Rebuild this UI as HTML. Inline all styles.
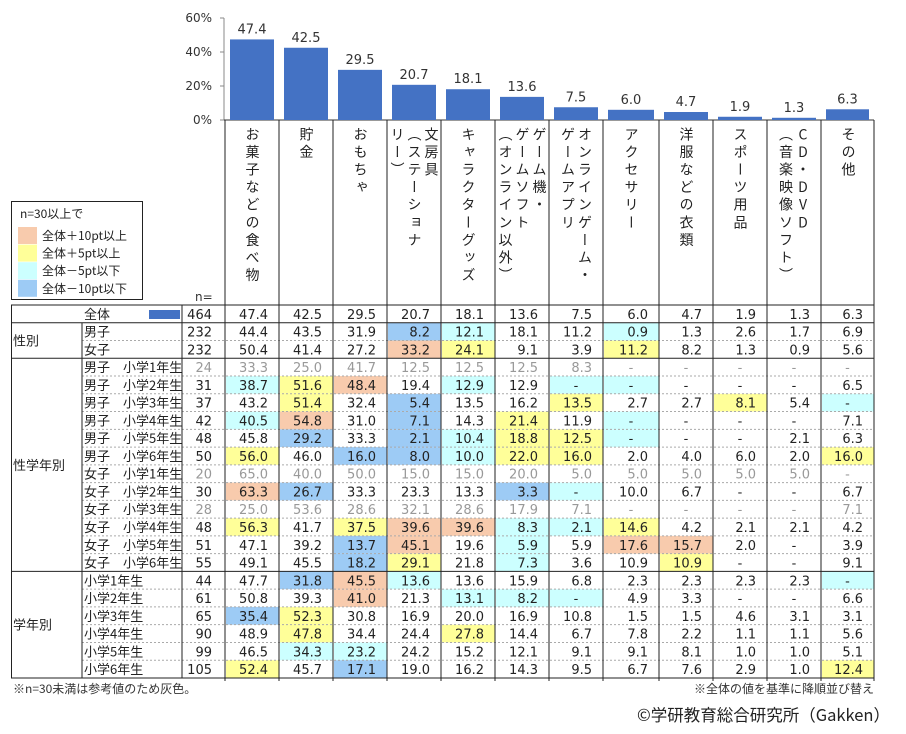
<!DOCTYPE html>
<html><head><meta charset="utf-8">
<style>
body{margin:0;background:#fff;width:906px;height:734px;overflow:hidden;position:relative;font-family:"DejaVu Sans","Noto Sans CJK JP",sans-serif;}
svg{position:absolute;left:0;top:0}
.vh{position:absolute;top:127px;writing-mode:vertical-rl;text-orientation:upright;font-family:"Noto Sans CJK JP","DejaVu Sans",sans-serif;font-size:14px;line-height:17px;letter-spacing:3.6px;color:#222;white-space:nowrap}
</style></head><body>
<svg id="s" width="906" height="734" xmlns="http://www.w3.org/2000/svg"></svg>
<div id="hd"></div>
<script>
(function(){
const s=document.getElementById('s');
let h='';
const cols=[225,279,333,387,441,495,549,603,659,713,767,821,874];
const T0=305,rh=17.76;
const jp='font-family="Noto Sans CJK JP, DejaVu Sans, sans-serif"';
h+='<line x1="224" y1="18" x2="224" y2="120" stroke="#888" stroke-width="1"/>';
[[60,18],[40,52],[20,86],[0,120]].forEach(function(a){const v=a[0],y=a[1];
 h+='<line x1="220" y1="'+y+'" x2="224" y2="'+y+'" stroke="#888"/>';
 h+='<text x="212" y="'+(y+4)+'" font-size="12" text-anchor="end" fill="#333">'+v+'%</text>';
});
h+='<line x1="224" y1="120" x2="874" y2="120" stroke="#333"/>';
const tot=[47.4,42.5,29.5,20.7,18.1,13.6,7.5,6.0,4.7,1.9,1.3,6.3];
tot.forEach(function(v,i){const x=cols[i]+5,w=cols[i+1]-cols[i]-10,bh=v*1.7;
 h+='<rect x="'+x+'" y="'+(120-bh)+'" width="'+w+'" height="'+bh+'" fill="#4472C4"/>';
 h+='<text x="'+((cols[i]+cols[i+1])/2)+'" y="'+(120-bh-6)+'" font-size="13" text-anchor="middle" fill="#333">'+v.toFixed(1)+'</text>';});
h+='<rect x="11.5" y="201.5" width="131" height="98" fill="none" stroke="#222"/>';
h+='<text x="20" y="218" font-size="12" '+jp+' fill="#222">n=30以上で</text>';
[['#F8CBAD','全体＋10pt以上'],['#FFFF99','全体＋5pt以上'],['#CCFFFF','全体－5pt以下'],['#9DCBF5','全体－10pt以下']].forEach(function(a,i){
 const y=227+i*17.6;h+='<rect x="18" y="'+y+'" width="19" height="17" fill="'+a[0]+'"/>';
 h+='<text x="42" y="'+(y+13)+'" font-size="12" '+jp+' fill="#222">'+a[1]+'</text>';});
h+='<text x="195" y="301" font-size="12" fill="#333">n=</text>';
const C={o:'#F8CBAD',y:'#FFFF99',c:'#CCFFFF',b:'#9DCBF5'};
const R=[
['全体',464,'47.4 42.5 29.5 20.7 18.1 13.6 7.5 6.0 4.7 1.9 1.3 6.3'],
['男子',232,'44.4 43.5 31.9 8.2b 12.1c 18.1 11.2 0.9c 1.3 2.6 1.7 6.9'],
['女子',232,'50.4 41.4 27.2 33.2o 24.1y 9.1 3.9 11.2y 8.2 1.3 0.9 5.6'],
['男子　小学1年生',24,'33.3 25.0 41.7 12.5 12.5 12.5 8.3 - - - - -',1],
['男子　小学2年生',31,'38.7c 51.6y 48.4o 19.4 12.9c 12.9 -c -c - - - 6.5'],
['男子　小学3年生',37,'43.2 51.4y 32.4 5.4b 13.5 16.2 13.5y 2.7 2.7 8.1y 5.4 -c'],
['男子　小学4年生',42,'40.5c 54.8o 31.0 7.1b 14.3 21.4y 11.9 -c - - - 7.1'],
['男子　小学5年生',48,'45.8 29.2b 33.3 2.1b 10.4c 18.8y 12.5y -c - - 2.1 6.3'],
['男子　小学6年生',50,'56.0y 46.0 16.0b 8.0b 10.0c 22.0y 16.0y 2.0 4.0 6.0 2.0 16.0y'],
['女子　小学1年生',20,'65.0 40.0 50.0 15.0 15.0 20.0 5.0 5.0 5.0 5.0 5.0 -',1],
['女子　小学2年生',30,'63.3o 26.7b 33.3 23.3 13.3 3.3b -c 10.0 6.7 - - 6.7'],
['女子　小学3年生',28,'25.0 53.6 28.6 32.1 28.6 17.9 7.1 - - - - 7.1',1],
['女子　小学4年生',48,'56.3y 41.7 37.5y 39.6o 39.6o 8.3c 2.1c 14.6y 4.2 2.1 2.1 4.2'],
['女子　小学5年生',51,'47.1 39.2 13.7b 45.1o 19.6 5.9c 5.9 17.6o 15.7o 2.0 - 3.9'],
['女子　小学6年生',55,'49.1 45.5 18.2b 29.1y 21.8 7.3c 3.6 10.9 10.9y - - 9.1'],
['小学1年生',44,'47.7 31.8b 45.5o 13.6c 13.6 15.9 6.8 2.3 2.3 2.3 2.3 -c'],
['小学2年生',61,'50.8 39.3 41.0o 21.3 13.1c 8.2c -c 4.9 3.3 - - 6.6'],
['小学3年生',65,'35.4b 52.3y 30.8 16.9 20.0 16.9 10.8 1.5 1.5 4.6 3.1 3.1'],
['小学4年生',90,'48.9 47.8y 34.4 24.4 27.8y 14.4 6.7 7.8 2.2 1.1 1.1 5.6'],
['小学5年生',99,'46.5 34.3c 23.2c 24.2 15.2 12.1 9.1 9.1 8.1 1.0 1.0 5.1'],
['小学6年生',105,'52.4y 45.7 17.1b 19.0 16.2 14.3 9.5 6.7 7.6 2.9 1.0 12.4y']];
let t='';
R.forEach(function(r,i){const y=T0+i*rh,by=y+rh/2+5;const col=r[3]?'#999':'#222';
 t+='<text x="84" y="'+by+'" font-size="13" '+jp+' fill="#222">'+r[0]+'</text>';
 t+='<text x="212" y="'+by+'" font-size="13" text-anchor="end" fill="'+col+'">'+r[1]+'</text>';
 r[2].split(' ').forEach(function(v,j){const c=v.slice(-1);let val=v;
  if(C[c]){val=v.slice(0,-1);h+='<rect x="'+(cols[j]+1)+'" y="'+y+'" width="'+(cols[j+1]-cols[j]-1)+'" height="'+rh+'" fill="'+C[c]+'"/>';}
  if(val=='-')t+='<text x="'+((cols[j]+cols[j+1])/2)+'" y="'+by+'" font-size="13" text-anchor="middle" fill="'+col+'">-</text>';
  else t+='<text x="'+(cols[j+1]-11)+'" y="'+by+'" font-size="13" text-anchor="end" fill="'+col+'">'+val+'</text>';});
 if(i>0&&[1,3,15].indexOf(i)<0) h+='<line x1="82" y1="'+y+'" x2="874" y2="'+y+'" stroke="#aaa" stroke-dasharray="2,2"/>';
});
h+='<rect x="149" y="310" width="31" height="9" fill="#4472C4"/>';
[0,1,3,15].forEach(function(k){const yy=T0+k*rh;h+='<line x1="11" y1="'+yy+'" x2="874" y2="'+yy+'" stroke="#222"/>';});
const bot=T0+21*rh;
h+='<line x1="11" y1="'+bot+'" x2="874" y2="'+bot+'" stroke="#222"/>';
h+='<line x1="11.5" y1="305" x2="11.5" y2="'+bot+'" stroke="#222"/>';
h+='<line x1="82" y1="'+(T0+rh)+'" x2="82" y2="'+bot+'" stroke="#222"/>';
h+='<line x1="182" y1="305" x2="182" y2="'+bot+'" stroke="#222"/>';
cols.forEach(function(x){h+='<line x1="'+x+'" y1="120" x2="'+x+'" y2="'+(bot+3)+'" stroke="#222"/>';});
t+='<text x="13" y="'+(T0+2*rh+5)+'" font-size="13" '+jp+' fill="#222">性別</text>';
t+='<text x="13" y="'+(T0+9*rh+5)+'" font-size="13" '+jp+' fill="#222">性学年別</text>';
t+='<text x="13" y="'+(T0+18*rh+5)+'" font-size="13" '+jp+' fill="#222">学年別</text>';
t+='<text x="13" y="693" font-size="12" '+jp+' fill="#333">※n=30未満は参考値のため灰色。</text>';
t+='<text x="874" y="693" font-size="12" '+jp+' text-anchor="end" fill="#333">※全体の値を基準に降順並び替え</text>';
t+='<text x="890" y="721" font-size="16.5" '+jp+' text-anchor="end" fill="#222">©学研教育総合研究所（Gakken）</text>';
s.innerHTML=h+t;
const hd=[[252,['お菓子などの食べ物']],[306,['貯金']],[360,['おもちゃ']],[414,['文房具','（ステーショナ','リー）']],[468,['キャラクターグッズ']],[522,['ゲーム機・','ゲームソフト','（オンライン以外）']],[576,['オンラインゲーム・','ゲームアプリ']],[631,['アクセサリー']],[686,['洋服などの衣類']],[740,['スポーツ用品']],[794,['CD・DVD','（音楽映像ソフト）']],[848,['その他']]];
let d='';
hd.forEach(function(a){const cx=a[0],lines=a[1];const w=lines.length*17;d+='<div class="vh" style="left:'+(cx-w/2)+'px;width:'+w+'px">'+lines.join('<br>')+'</div>';});
document.getElementById('hd').innerHTML=d;
})();
</script>
</body></html>
